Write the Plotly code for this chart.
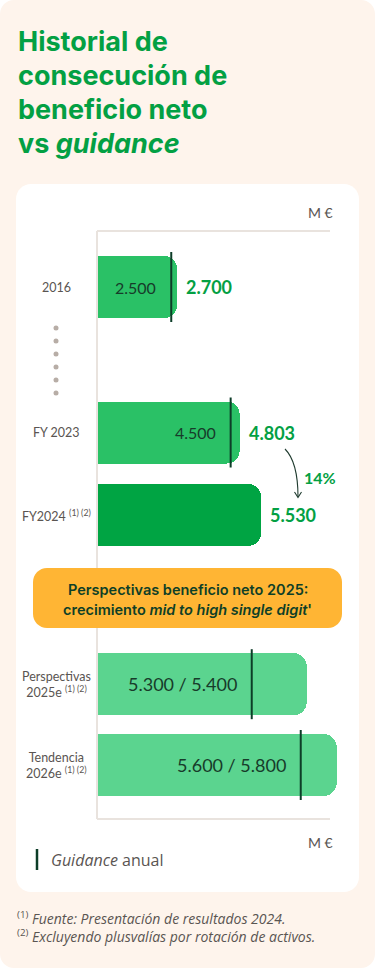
import plotly.graph_objects as go

W, H = 375, 969

# ---------------- data ----------------
categories = ["2016", "FY 2023", "FY2024", "Perspectivas 2025e", "Tendencia 2026e"]
category_labels = ["2016", "FY 2023", "FY2024 <sup>(1) (2)</sup>",
                   "Perspectivas<br>2025e <sup>(1) (2)</sup>",
                   "Tendencia<br>2026e <sup>(1) (2)</sup>"]
net_profit_labels = ["2.700", "4.803", "5.530", "", ""]
bar_length = [2700, 4803, 5530, 7060, 8070]          # drawn length of each bar (M€)
guidance_value = [2500, 4500, None, 5210, 6860]       # position of guidance marker (M€)
guidance_labels = ["2.500", "4.500", "", "5.300 / 5.400", "5.600 / 5.800"]
growth_label = "14%"
unit_label = "M €"

# ---------------- layout constants ----------------
ROW_Y = [287, 432.5, 515, 684.2, 765]   # row centres (px from top)
BAR_H = 62
PX_PER_UNIT = 0.0297
AXIS_X = 97
BAR_COLORS = ["#2AC166", "#2AC166", "#00A443", "#5BD48F", "#5BD48F"]
GREEN = "#03A043"
DARK = "#0D3D28"
GREY = "#5A5552"
BODY_FONT = "Lato"
TEXT_FONT = "Open Sans"
HEAD_FONT = "Inter"


def P(x):
    return x / W


def Q(y):
    return 1 - y / H


def rrect(x0, y0, x1, y1, r):
    k = 0.5523 * r
    return (f"M {P(x0 + r)},{Q(y0)} L {P(x1 - r)},{Q(y0)} "
            f"C {P(x1 - r + k)},{Q(y0)} {P(x1)},{Q(y0 + r - k)} {P(x1)},{Q(y0 + r)} "
            f"L {P(x1)},{Q(y1 - r)} "
            f"C {P(x1)},{Q(y1 - r + k)} {P(x1 - r + k)},{Q(y1)} {P(x1 - r)},{Q(y1)} "
            f"L {P(x0 + r)},{Q(y1)} "
            f"C {P(x0 + r - k)},{Q(y1)} {P(x0)},{Q(y1 - r + k)} {P(x0)},{Q(y1 - r)} "
            f"L {P(x0)},{Q(y0 + r)} "
            f"C {P(x0)},{Q(y0 + r - k)} {P(x0 + r - k)},{Q(y0)} {P(x0 + r)},{Q(y0)} Z")


fig = go.Figure()

fig.add_trace(go.Bar(
    orientation="h", x=bar_length, y=ROW_Y, width=BAR_H,
    marker=dict(color=BAR_COLORS, line=dict(width=0), cornerradius=13),
    hoverinfo="skip", showlegend=False))

# guidance markers
gx, gy = [], []
for g, c in zip(guidance_value, ROW_Y):
    if g is None:
        continue
    gx += [g, g, None]
    gy += [c - 35, c + 35, None]
fig.add_trace(go.Scatter(x=gx, y=gy, mode="lines", line=dict(color=DARK, width=2),
                         hoverinfo="skip", showlegend=False))

shapes = []
# outer cream card & inner white card
shapes.append(dict(type="path", path=rrect(0, 0, 375, 968, 14), xref="paper", yref="paper",
                   fillcolor="#FEF4EC", line=dict(width=0), layer="below"))
shapes.append(dict(type="path", path=rrect(16, 184, 359, 892, 15), xref="paper", yref="paper",
                   fillcolor="#FFFFFF", line=dict(width=0), layer="below"))
# axis frame
AX_C = "#E9E3DE"
for yy in (231, 819):
    shapes.append(dict(type="line", xref="paper", yref="paper", x0=P(AXIS_X), x1=P(330),
                       y0=Q(yy), y1=Q(yy), line=dict(color=AX_C, width=2), layer="below"))
# vertical axis line (drawn above bars so the bar starts are crisp)
shapes.append(dict(type="line", xref="paper", yref="paper", x0=P(AXIS_X), x1=P(AXIS_X),
                   y0=Q(231), y1=Q(819), line=dict(color=AX_C, width=2), layer="above"))
# ellipsis dots
for i in range(6):
    cy = 328 + 13 * i
    shapes.append(dict(type="circle", xref="paper", yref="paper", x0=P(53.5), x1=P(58.5),
                       y0=Q(cy - 2.5), y1=Q(cy + 2.5), fillcolor="#B7ADA6",
                       line=dict(width=0), layer="below"))
# orange banner
shapes.append(dict(type="path", path=rrect(33, 568, 342, 628, 14), xref="paper", yref="paper",
                   fillcolor="#FFB534", line=dict(width=0), layer="above"))
# growth arrow
shapes.append(dict(type="path", xref="paper", yref="paper",
                   path=f"M {P(285)},{Q(449)} Q {P(298)},{Q(462)} {P(298)},{Q(497)}",
                   line=dict(color="#1F3B2F", width=1.1)))
shapes.append(dict(type="path", xref="paper", yref="paper",
                   path=f"M {P(294.5)},{Q(492)} L {P(298)},{Q(497.5)} L {P(301.5)},{Q(492)}",
                   line=dict(color="#1F3B2F", width=1.1)))
# legend marker
shapes.append(dict(type="line", xref="paper", yref="paper", x0=P(37), x1=P(37),
                   y0=Q(849), y1=Q(870), line=dict(color=DARK, width=2.5)))

ann = []
# title
title_lines = ["Historial de", "consecución de", "beneficio neto", "vs <i>guidance</i>"]
for i, t in enumerate(title_lines):
    ann.append(dict(text=t, xref="paper", yref="paper", x=P(15.5), y=Q(41.5 + 34 * i),
                    xanchor="left", yanchor="middle", showarrow=False,
                    font=dict(family=HEAD_FONT, size=27, color=GREEN, weight=700)))
# unit labels
for yy in (213, 842):
    ann.append(dict(text=unit_label, xref="paper", yref="paper", x=P(335), y=Q(yy),
                    xanchor="right", yanchor="middle", showarrow=False,
                    font=dict(family=BODY_FONT, size=14, color=GREY)))
# category labels
for lab, c in zip(category_labels, ROW_Y):
    ann.append(dict(text=lab, xref="paper", yref="y", x=P(56.5), y=c,
                    xanchor="center", yanchor="middle", showarrow=False,
                    font=dict(family=BODY_FONT, size=12.5, color=GREY)))
# outside value labels
for v, lab, c in zip(bar_length, net_profit_labels, ROW_Y):
    if lab:
        ann.append(dict(text=lab, xref="x", yref="y", x=v, y=c, xshift=7,
                        xanchor="left", yanchor="middle", showarrow=False,
                        font=dict(family=BODY_FONT, size=18, color=GREEN, weight=700)))
# guidance labels inside bars
for i, (g, lab, c) in enumerate(zip(guidance_value, guidance_labels, ROW_Y)):
    if g is not None and lab:
        ann.append(dict(text=lab, xref="x", yref="y", x=g, y=c, xshift=-13,
                        xanchor="right", yanchor="middle", showarrow=False,
                        font=dict(family=BODY_FONT, size=16 if i < 2 else 18, color="#173B2A")))
# growth
ann.append(dict(text=growth_label, xref="paper", yref="paper", x=P(302), y=Q(477),
                xanchor="left", yanchor="middle", showarrow=False,
                font=dict(family=BODY_FONT, size=16, color=GREEN, weight=700)))
# banner text
ann.append(dict(text="Perspectivas beneficio neto 2025:", xref="paper", yref="paper",
                x=P(187.5), y=Q(589.5), xanchor="center", yanchor="middle", showarrow=False,
                font=dict(family=HEAD_FONT, size=14.5, color="#0E3F27", weight=600)))
ann.append(dict(text="crecimiento <i>mid to high single digit</i>'", xref="paper", yref="paper",
                x=P(187.5), y=Q(609), xanchor="center", yanchor="middle", showarrow=False,
                font=dict(family=HEAD_FONT, size=14.5, color="#0E3F27", weight=600)))
# legend text
ann.append(dict(text="<i>Guidance</i> anual", xref="paper", yref="paper", x=P(49), y=Q(860),
                xanchor="left", yanchor="middle", showarrow=False,
                font=dict(family=TEXT_FONT, size=16, color=GREY)))
# footnotes (one block)
foot = ("<sup>(1)</sup> <i>Fuente: Presentación de resultados 2024.</i><br>"
        "<sup>(2)</sup> <i>Excluyendo plusvalías por rotación de activos.</i>")
ann.append(dict(text=foot, xref="paper", yref="paper", x=P(15), y=Q(927),
                xanchor="left", yanchor="middle", align="left", showarrow=False,
                font=dict(family=TEXT_FONT, size=14, color=GREY)))

fig.update_layout(
    width=W, height=H, autosize=False,
    margin=dict(l=0, r=0, t=0, b=0, pad=0),
    paper_bgcolor="#FFFFFF", plot_bgcolor="rgba(0,0,0,0)",
    xaxis=dict(domain=[AXIS_X / W, 1], range=[0, (W - AXIS_X) / PX_PER_UNIT],
               visible=False, fixedrange=True),
    yaxis=dict(domain=[0, 1], range=[H, 0], visible=False, fixedrange=True),
    shapes=shapes, annotations=ann, showlegend=False, bargap=0,
)

fig.write_html("out.html", config={"displayModeBar": False, "staticPlot": True},
               post_script="document.body.style.margin='0';document.body.style.overflow='hidden';")
